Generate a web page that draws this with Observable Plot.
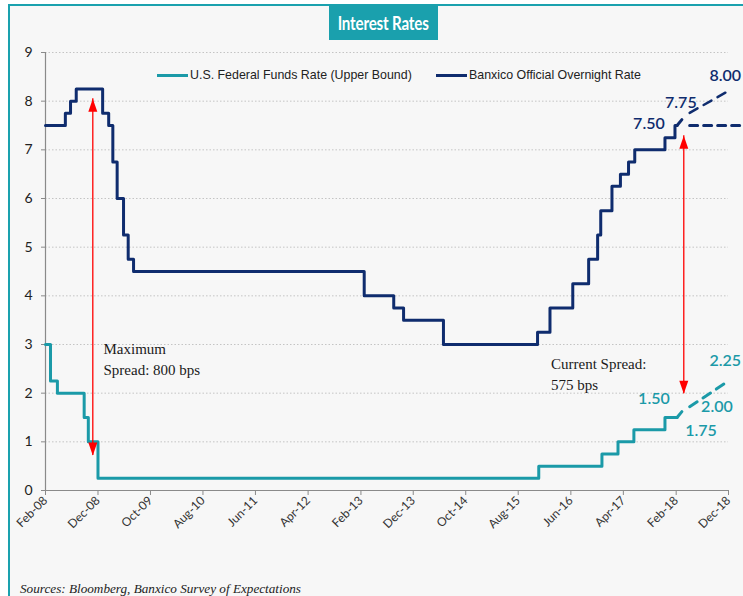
<!DOCTYPE html>
<html><head><meta charset="utf-8">
<script src="https://cdn.jsdelivr.net/npm/d3@7"></script>
<script src="https://cdn.jsdelivr.net/npm/@observablehq/plot@0.6"></script>
<style>
html,body{margin:0;padding:0;background:#fff;}
#wrap{position:relative;width:743px;height:596px;overflow:hidden;}
#frame{position:absolute;left:8px;top:4px;width:760px;height:620px;background:#f7f7f7;border-left:2px solid #1aa1ae;border-top:2px solid #1aa1ae;}
#title{position:absolute;left:329px;top:5px;width:109px;height:35px;background:#1aa0ad;color:#fff;display:flex;align-items:center;justify-content:center;overflow:hidden;}
#title span{display:inline-block;white-space:nowrap;font:bold 18px Lato,sans-serif;transform:scaleX(0.84);letter-spacing:-0.2px;}
#chart{position:absolute;left:0;top:0;}
.leg{position:absolute;top:67px;font:12.4px "Liberation Sans",sans-serif;color:#222;white-space:nowrap;line-height:16px;}
.sw{position:absolute;height:3px;top:74px;}
#source{position:absolute;left:20px;top:581px;font:italic 13.2px "Liberation Serif",serif;color:#222;white-space:nowrap;}
</style></head>
<body>
<div id="wrap">
  <div id="frame"></div>
  <div id="chart"></div>
  <div id="title"><span>Interest Rates</span></div>
  <div class="sw" style="left:157px;width:31px;background:#1b9aa8"></div>
  <div class="leg" id="leg1" style="left:190px"></div>
  <div class="sw" style="left:436px;width:31px;background:#0f2c6e"></div>
  <div class="leg" id="leg2" style="left:469px"></div>
  <div id="source">Sources: Bloomberg, Banxico Survey of Expectations</div>
</div>
<script>
// ---- data ----
const seriesNames = ["U.S. Federal Funds Rate (Upper Bound)", "Banxico Official Overnight Rate"];
const xTickLabels = ["Feb-08","Dec-08","Oct-09","Aug-10","Jun-11","Apr-12","Feb-13","Dec-13","Oct-14","Aug-15","Jun-16","Apr-17","Feb-18","Dec-18"];
const yTicks = [0,1,2,3,4,5,6,7,8,9];

const fedDates = ["2008-02-01","2008-03-01","2008-04-10","2008-09-12","2008-10-06","2008-12-01","2015-11-28","2016-11-28","2017-03-01","2017-06-01","2017-11-28","2018-02-06"];
const fedValues = [3.00,2.25,2.00,1.50,1.00,0.25,0.50,0.75,1.00,1.25,1.50,1.50];
const fedTailDates = ["2018-02-06","2018-03-06"];
const fedTailValues = [1.50,1.62];
const fedFcstDates = ["2018-04-20","2018-12-01"];
const fedFcstValues = [1.72,2.25];

const banDates = ["2008-02-01","2008-05-26","2008-06-25","2008-07-28","2008-12-28","2009-02-01","2009-02-25","2009-03-22","2009-04-28","2009-05-25","2009-06-25","2013-02-20","2013-08-10","2013-10-06","2014-05-25","2015-11-21","2016-02-01","2016-06-12","2016-09-12","2016-11-03","2016-11-21","2017-01-25","2017-03-15","2017-05-01","2017-06-06","2017-11-28","2018-01-25","2018-02-06"];
const banValues = [7.50,7.75,8.00,8.25,7.75,7.50,6.75,6.00,5.25,4.75,4.50,4.00,3.75,3.50,3.00,3.25,3.75,4.25,4.75,5.25,5.75,6.25,6.50,6.75,7.00,7.25,7.50,7.50];
const banTailDates = ["2018-02-06","2018-03-06"];
const banTailValues = [7.50,7.62];
const banHoldDates = ["2018-04-20","2019-03-15"];
const banHoldValues = [7.50,7.50];
const banHikeDates = ["2018-04-20","2018-12-01"];
const banHikeValues = [7.76,8.21];

const arrowDates = ["2008-11-01","2018-03-17"];
const arrowLow = [0.72,1.99];
const arrowHigh = [8.05,7.29];

const noteTexts = ["Maximum\nSpread: 800 bps","Current Spread:\n575 bps"];
const noteDates = ["2009-01-02","2016-02-07"];
const noteValues = [3.12,2.81];

const valueLabels = ["7.50","7.75","8.00","1.50","1.75","2.00","2.25"];
const valueLabelDates = ["2017-08-27","2018-02-28","2018-11-12","2017-09-25","2018-06-25","2018-09-25","2018-11-12"];
const valueLabelValues = [7.54,7.97,8.52,1.89,1.23,1.72,2.67];
const valueLabelSeries = [1,1,1,0,0,0,0];

// ---- build ----
const teal = "#1b9aa8", navy = "#0f2c6e";
const P = d3.utcParse("%Y-%m-%d");
const pts = (ds, vs) => ds.map((d,i) => ({date: P(d), value: vs[i]}));
const xTicks = xTickLabels.map(d3.utcParse("%b-%y"));
const arrows = arrowDates.map((d,i) => ({date: P(d), lo: arrowLow[i], hi: arrowHigh[i]}));
const notes = noteTexts.map((t,i) => ({text: t, date: P(noteDates[i]), value: noteValues[i]}));
const vlabels = valueLabels.map((t,i) => ({text: t, date: P(valueLabelDates[i]), value: valueLabelValues[i], color: valueLabelSeries[i] ? navy : teal}));

document.getElementById("leg1").textContent = seriesNames[0];
document.getElementById("leg2").textContent = seriesNames[1];

const arrowUp = {draw(c){c.moveTo(0,0);c.lineTo(4.5,13);c.lineTo(-4.5,13);c.closePath();}};
const arrowDown = {draw(c){c.moveTo(0,0);c.lineTo(4.5,-13);c.lineTo(-4.5,-13);c.closePath();}};

const chart = Plot.plot({
  width: 743, height: 560,
  marginLeft: 45, marginRight: 15, marginTop: 52, marginBottom: 70,
  style: {background: "transparent", fontFamily: "Lato, sans-serif", color: "#333", overflow: "visible"},
  x: {type: "utc", domain: [xTicks[0], xTicks[xTicks.length-1]]},
  y: {domain: [0, 9]},
  marks: [
    Plot.gridY(yTicks.slice(1), {stroke: "#c4c4c4", strokeOpacity: 1, strokeDasharray: "1.5,2"}),
    Plot.ruleY([0], {stroke: "#8a8a8a", strokeWidth: 1.2}),
    Plot.ruleX([xTicks[0]], {y1: 0, y2: 9, stroke: "#8a8a8a", strokeWidth: 1.2}),
    Plot.axisY({ticks: yTicks, tickSize: 4, tickPadding: 9, fontSize: 14, stroke: "#8a8a8a", fill: "#222"}),
    Plot.axisX({ticks: xTicks, tickFormat: d3.utcFormat("%b-%y"), tickRotate: -45, tickSize: 5, tickPadding: 3, fontSize: 12, stroke: "#8a8a8a", fill: "#333"}),
    Plot.line(pts(fedDates, fedValues), {x: "date", y: "value", curve: "step-after", stroke: teal, strokeWidth: 3}),
    Plot.line(pts(fedTailDates, fedTailValues), {x: "date", y: "value", stroke: teal, strokeWidth: 3}),
    Plot.line(pts(fedFcstDates, fedFcstValues), {x: "date", y: "value", stroke: teal, strokeWidth: 3, strokeDasharray: "9,7"}),
    Plot.line(pts(banDates, banValues), {x: "date", y: "value", curve: "step-after", stroke: navy, strokeWidth: 3}),
    Plot.line(pts(banTailDates, banTailValues), {x: "date", y: "value", stroke: navy, strokeWidth: 3}),
    Plot.line(pts(banHoldDates, banHoldValues), {x: "date", y: "value", stroke: navy, strokeWidth: 3, strokeDasharray: "8,6"}),
    Plot.line(pts(banHikeDates, banHikeValues), {x: "date", y: "value", stroke: navy, strokeWidth: 2.5, strokeDasharray: "9,7"}),
    Plot.ruleX(arrows, {x: "date", y1: "lo", y2: "hi", stroke: "#ff0000", strokeWidth: 1.3}),
    Plot.dot(arrows, {x: "date", y: "hi", symbol: arrowUp, fill: "#ff0000", stroke: null}),
    Plot.dot(arrows, {x: "date", y: "lo", symbol: arrowDown, fill: "#ff0000", stroke: null}),
    Plot.text(notes, {x: "date", y: "value", text: "text", textAnchor: "start", lineAnchor: "top", lineHeight: 1.4, fontSize: 15, fontFamily: "Liberation Serif, serif", fill: "#1a1a1a"}),
    Plot.text(vlabels, {x: "date", y: "value", text: "text", fill: "color", fontSize: 16, fontWeight: 600, fontFamily: "Lato, sans-serif"})
  ]
});
document.getElementById("chart").appendChild(chart);
</script>
</body></html>
